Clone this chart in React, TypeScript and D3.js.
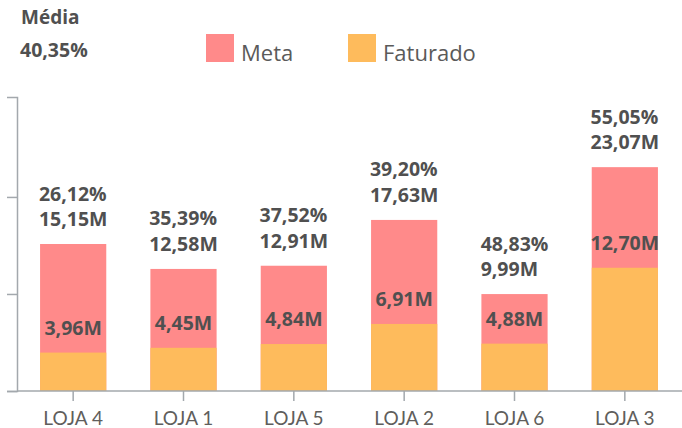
import React, { useEffect, useRef } from "react";
import * as d3 from "d3";

const stores = ["LOJA 4", "LOJA 1", "LOJA 5", "LOJA 2", "LOJA 6", "LOJA 3"];
const meta = [15.15, 12.58, 12.91, 17.63, 9.99, 23.07];
const faturado = [3.96, 4.45, 4.84, 6.91, 4.88, 12.7];
const pct = [26.12, 35.39, 37.52, 39.2, 48.83, 55.05];
const mediaLabel = "Média";
const mediaValue = 40.35;
const legendItems = ["Meta", "Faturado"];
const yTicks = [0, 10, 20];

const W = 682;
const H = 428;
const COLOR_META = "#FF8A8A";
const COLOR_FAT = "#FEBB5C";
const TEXT_DARK = "#505050";
const AXIS = "#A3A8AD";
const FONT = "'Open Sans', 'Noto Sans', sans-serif";

const fmt = (v: number) => d3.format(".2f")(v).replace(".", ",");

export default function App() {
  const ref = useRef<SVGSVGElement | null>(null);

  useEffect(() => {
    const svg = d3.select(ref.current);
    svg.selectAll("*").remove();

    const x = d3
      .scaleBand<string>()
      .domain(stores)
      .range([18, 680])
      .paddingInner(0.4)
      .paddingOuter(0.2);
    const y = d3.scaleLinear().domain([0, 30.3]).range([391, 97]);

    // header
    svg
      .append("text")
      .attr("x", 21)
      .attr("y", 24)
      .attr("font-family", FONT)
      .attr("font-weight", 700)
      .attr("font-size", 19)
      .attr("fill", TEXT_DARK)
      .text(mediaLabel);
    svg
      .append("text")
      .attr("x", 20)
      .attr("y", 57)
      .attr("font-family", FONT)
      .attr("font-weight", 700)
      .attr("font-size", 19.5)
      .attr("fill", TEXT_DARK)
      .text(fmt(mediaValue) + "%");

    // legend
    const legendX = [206, 348];
    const legendColors = [COLOR_META, COLOR_FAT];
    legendItems.forEach((name, i) => {
      svg
        .append("rect")
        .attr("x", legendX[i])
        .attr("y", 34)
        .attr("width", 28)
        .attr("height", 28)
        .attr("fill", legendColors[i]);
      svg
        .append("text")
        .attr("x", legendX[i] + 35)
        .attr("y", 61)
        .attr("font-family", FONT)
        .attr("font-size", 22)
        .attr("fill", "#5A5A5A")
        .text(name);
    });

    // y axis
    const yAxis = svg
      .append("g")
      .attr("transform", "translate(17,0)")
      .call(
        d3
          .axisLeft(y)
          .tickValues(yTicks)
          .tickSize(10)
          .tickSizeOuter(10)
          .tickFormat(() => "")
      );
    yAxis.selectAll("path,line").attr("stroke", AXIS).attr("stroke-width", 1.5);

    // bars
    const g = svg.append("g");
    stores.forEach((s, i) => {
      const bx = x(s)!;
      const bw = x.bandwidth();
      g.append("rect")
        .attr("x", bx)
        .attr("width", bw)
        .attr("y", y(meta[i]))
        .attr("height", y(0) - y(meta[i]))
        .attr("fill", COLOR_META);
      g.append("rect")
        .attr("x", bx)
        .attr("width", bw)
        .attr("y", y(faturado[i]))
        .attr("height", y(0) - y(faturado[i]))
        .attr("fill", COLOR_FAT);
    });

    // x axis
    const xAxis = svg
      .append("g")
      .attr("transform", "translate(0,391)")
      .call(d3.axisBottom(x).tickSize(10).tickSizeOuter(0));
    xAxis.select(".domain").remove();
    xAxis
      .append("line")
      .attr("x1", 17)
      .attr("x2", W)
      .attr("stroke", AXIS)
      .attr("stroke-width", 1.5);
    xAxis.selectAll(".tick line").attr("stroke", AXIS).attr("stroke-width", 1.5);
    xAxis
      .selectAll(".tick text")
      .attr("y", 34)
      .attr("dy", 0)
      .attr("font-family", "Lato, 'Open Sans', sans-serif")
      .attr("font-size", 19)
      .attr("fill", "#605E5C");

    // labels
    stores.forEach((s, i) => {
      const cx = x(s)! + x.bandwidth() / 2;
      const top = y(meta[i]);
      const block = svg
        .append("text")
        .attr("font-family", FONT)
        .attr("font-weight", 700)
        .attr("font-size", 19.5)
        .attr("fill", TEXT_DARK);
      const l1 = block
        .append("tspan")
        .attr("y", top - 18 - 25.5)
        .text(fmt(pct[i]) + "%");
      const l2 = block
        .append("tspan")
        .attr("y", top - 18)
        .text(fmt(meta[i]) + "M");
      const w1 = (l1.node() as SVGTSpanElement).getComputedTextLength();
      const w2 = (l2.node() as SVGTSpanElement).getComputedTextLength();
      const left = cx - Math.max(w1, w2) / 2;
      l1.attr("x", left);
      l2.attr("x", left);

      svg
        .append("text")
        .attr("x", cx)
        .attr("y", y(faturado[i]) - 18)
        .attr("text-anchor", "middle")
        .attr("font-family", FONT)
        .attr("font-weight", 700)
        .attr("font-size", 19.5)
        .attr("fill", TEXT_DARK)
        .text(fmt(faturado[i]) + "M");
    });
  }, []);

  return (
    <svg
      ref={ref}
      width={W}
      height={H}
      style={{ position: "absolute", left: 0, top: 0, background: "#fff" }}
    />
  );
}
